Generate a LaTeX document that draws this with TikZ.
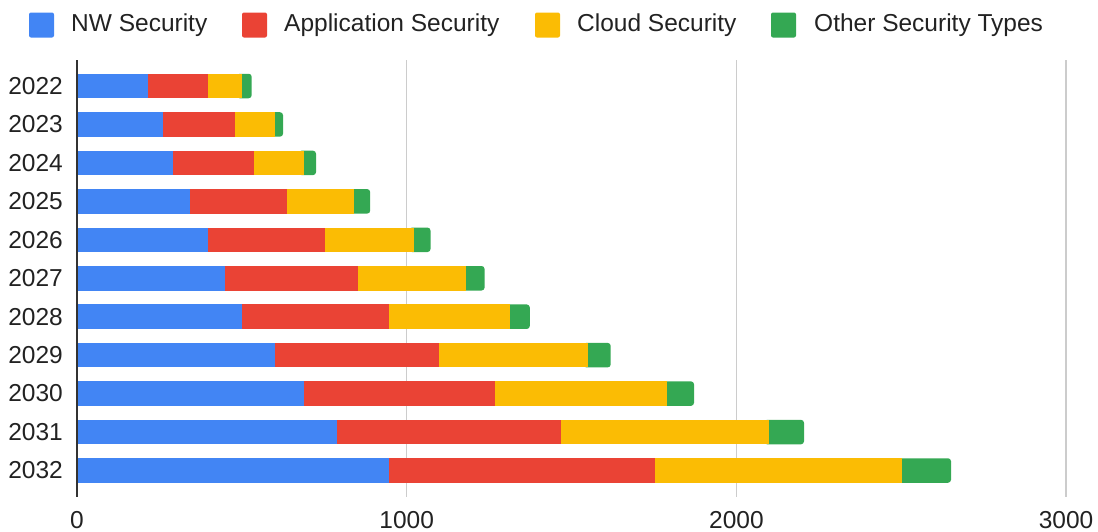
\documentclass[tikz,border=0pt]{standalone}
\usepackage{fontspec}
\setmainfont{Liberation Sans}
\definecolor{cblue}{HTML}{4285F4}
\definecolor{cred}{HTML}{EA4335}
\definecolor{cyellow}{HTML}{FBBC04}
\definecolor{cgreen}{HTML}{34A853}
\definecolor{ctext}{HTML}{222222}
\definecolor{cgrid}{HTML}{CCCCCC}
\definecolor{caxis}{HTML}{333333}
\begin{document}
\begin{tikzpicture}[x=1pt,y=-1pt,
  lbl/.style={text=ctext,font=\fontsize{24.5}{28}\selectfont,inner sep=0pt},
  leglbl/.style={text=ctext,font=\fontsize{24.5}{28}\selectfont,inner sep=0pt,anchor=base west},
  legsq/.style={rounded corners=2pt},
  gridline/.style={cgrid,line width=1.5pt},
  axisline/.style={caxis,line width=1.5pt}]
\useasboundingbox (0,0) rectangle (1098,531);
% gridlines
\foreach \v/\name in {1000/g1,2000/g2,3000/g3}{
  \coordinate (\name t) at ({77+0.3297*\v},60);
  \coordinate (\name b) at ({77+0.3297*\v},497);
  \draw[gridline] (\name t) -- (\name b);
}
% bars
\foreach \i/\yr/\a/\b/\c/\d in {
  0/2022/148/208.3/241.7/251.7,
  1/2023/163/235.3/274.7/283,
  2/2024/173/254/303.7/316,
  3/2025/189.8/287.4/353.7/370.2,
  4/2026/208.4/325.3/414/430.5,
  5/2027/224.9/358.2/466.3/484.6,
  6/2028/241.8/389.1/509.5/529.8,
  7/2029/274.7/439/588.3/610.7,
  8/2030/304.2/495/667/694,
  9/2031/337.3/561.3/769/804,
  10/2032/389/654.7/901.7/951}{
  \pgfmathsetmacro{\yc}{86+38.45*\i}
  \pgfmathsetmacro{\yt}{\yc-12.25}
  \pgfmathsetmacro{\yb}{\yc+12.25}
  \pgfmathsetmacro{\ybase}{\yc+8.3}
  \fill[cgreen,rounded corners=3pt] ({\c-5},\yt) rectangle (\d,\yb);
  \fill[cyellow] (\b,\yt) rectangle (\c,\yb);
  \fill[cred] (\a,\yt) rectangle (\b,\yb);
  \fill[cblue] (77,\yt) rectangle (\a,\yb);
  \node[lbl,anchor=base east] (y\yr) at (63,\ybase) {\yr};
}
% axis
\coordinate (axt) at (77,60);
\coordinate (axb) at (77,497);
\draw[axisline] (axt) -- (axb);
% tick labels
\node[lbl,anchor=base] (t0) at (77,528) {0};
\node[lbl,anchor=base] (t1) at (406.7,528) {1000};
\node[lbl,anchor=base] (t2) at (736.4,528) {2000};
\node[lbl,anchor=base] (t3) at (1066.1,528) {3000};
% legend
\fill[cblue,legsq] (29,12.5) rectangle (54,37.5);
\node[leglbl] (l1) at (71,31) {NW Security};
\fill[cred,legsq] (242,12.5) rectangle (267,37.5);
\node[leglbl] (l2) at (284,31) {Application Security};
\fill[cyellow,legsq] (535,12.5) rectangle (560,37.5);
\node[leglbl] (l3) at (577,31) {Cloud Security};
\fill[cgreen,legsq] (771,12.5) rectangle (796,37.5);
\node[leglbl] (l4) at (814,31) {Other Security Types};
\end{tikzpicture}
\end{document}
